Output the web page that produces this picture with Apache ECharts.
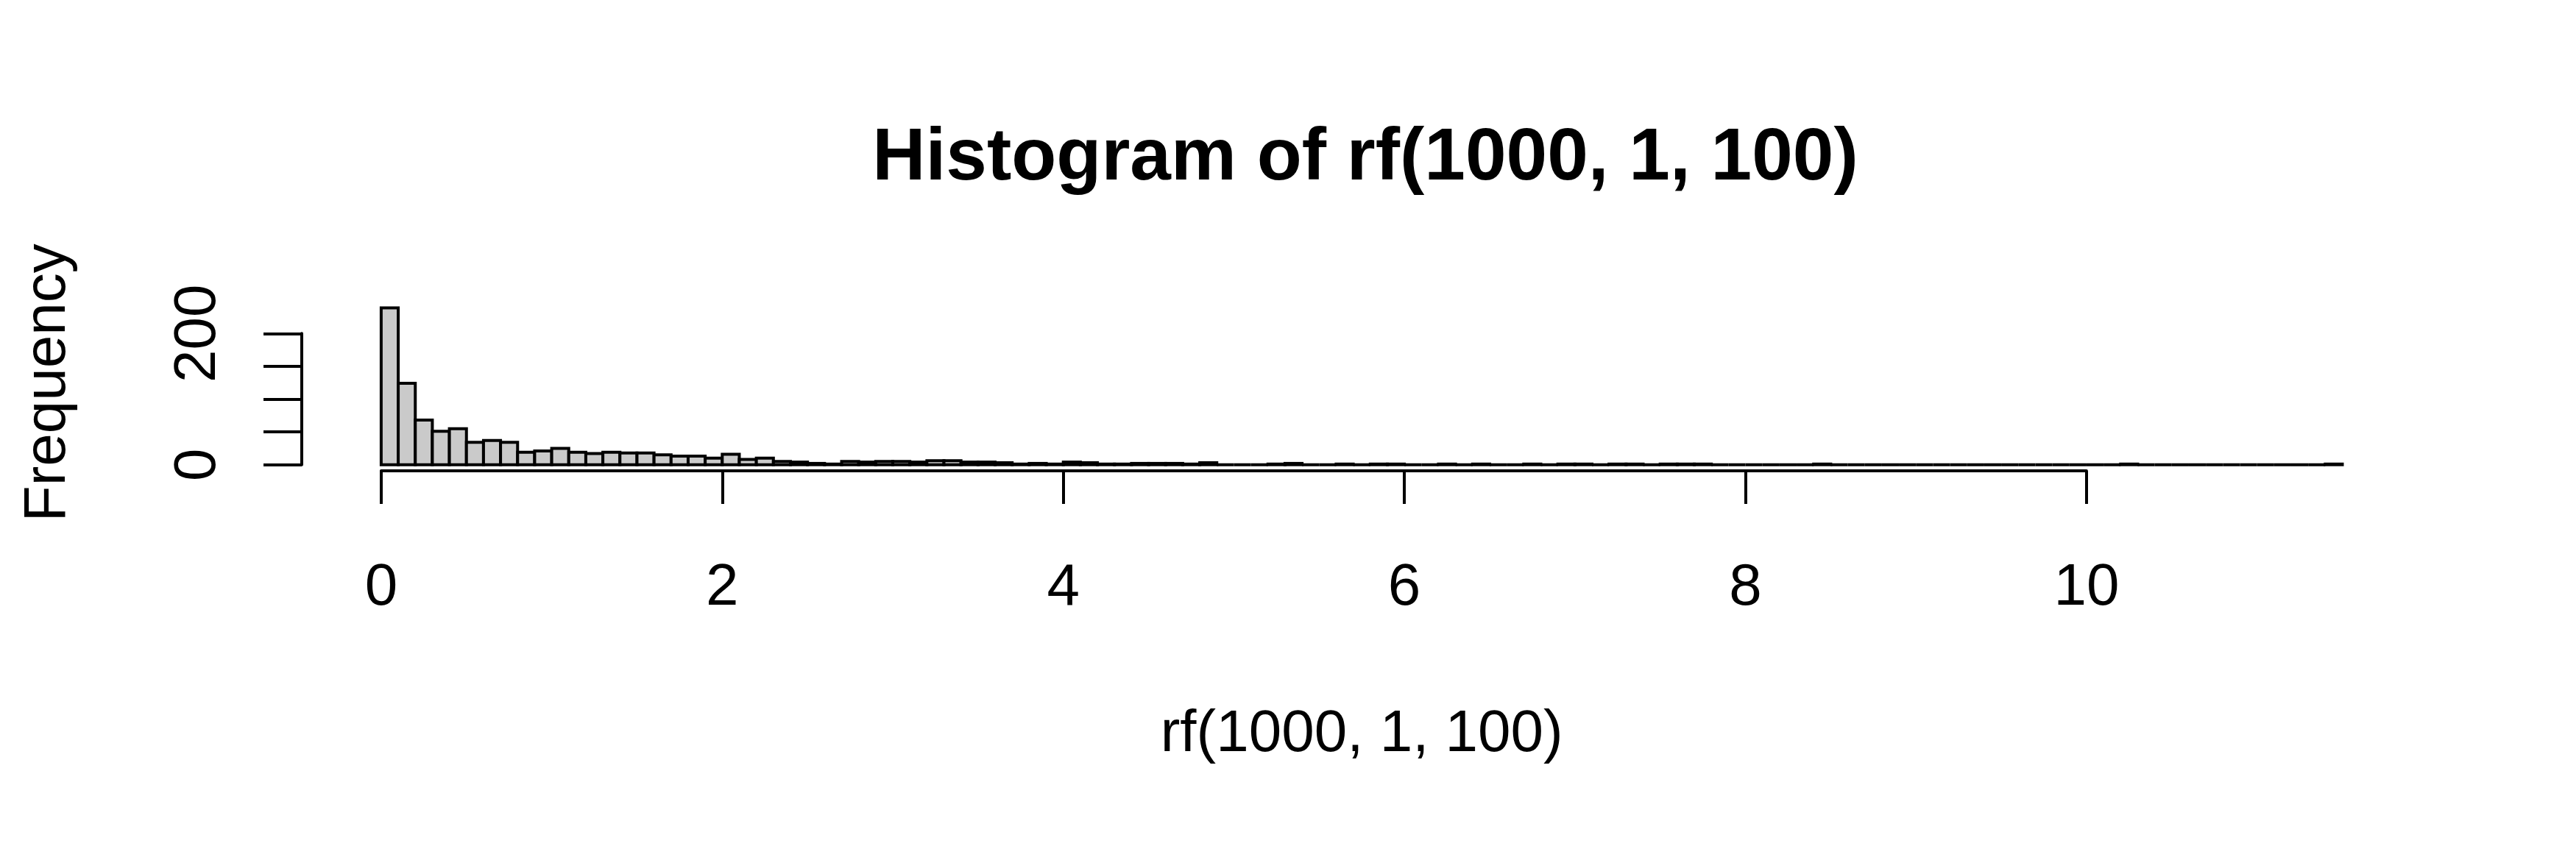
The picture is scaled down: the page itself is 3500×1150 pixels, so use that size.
<!DOCTYPE html>
<html>
<head>
<meta charset="utf-8">
<script src="https://cdn.jsdelivr.net/npm/echarts@6/dist/echarts.min.js"></script>
<style>
html,body{margin:0;padding:0;background:#fff;}
#chart{width:3500px;height:1150px;}
</style>
</head>
<body>
<div id="chart"></div>
<script>
// Histogram counts per bin of width 0.1, starting at 0 (bins 0.0-0.1 ... 11.4-11.5)
const binStart = 0;
const binWidth = 0.1;
const counts = [
  239,124,68,51,55,34,37,34,19,21,
  25,19,17,19,18,18,15,13,13,10,
  16,8,10,5,4,2,1,5,4,5,
  5,4,6,6,4,4,3,1,2,1,
  4,3,1,1,2,2,2,1,3,0,
  0,0,1,2,0,0,1,0,1,1,
  0,0,1,0,1,0,0,1,0,1,
  1,0,1,1,0,1,1,1,0,0,
  0,0,0,0,1,0,0,0,0,0,
  0,0,0,0,0,0,0,0,0,0,
  0,0,1,0,0,0,0,0,0,0,
  0,0,0,0,1
];
const xTicks = [0, 2, 4, 6, 8, 10];
const yTickLabels = ['0', '200'];
const titleText = 'Histogram of rf(1000, 1, 100)';
const xLabel = 'rf(1000, 1, 100)';
const yLabel = 'Frequency';

const FONT = "'Liberation Sans', Helvetica, Arial, sans-serif";
const binData = counts.map((c, i) => [binStart + i * binWidth, binStart + (i + 1) * binWidth, c]);
const xMax = binStart + counts.length * binWidth;

const chart = echarts.init(document.getElementById('chart'), null, {renderer: 'canvas'});
const option = {
  backgroundColor: '#ffffff',
  animation: false,
  title: [{
    text: titleText,
    left: 1850, top: 161, textAlign: 'center',
    textStyle: {fontFamily: FONT, fontSize: 100, fontWeight: 'bold', color: '#000'}
  }],
  grid: [
    {left: 517.9, top: 408.7, width: 2664.6, height: 223},
    {left: 517.9, top: 560, width: 2317, height: 80},
    {left: 410, top: 453.3, width: 100, height: 178.4}
  ],
  xAxis: [
    {gridIndex: 0, type: 'value', min: binStart, max: xMax,
     axisLine: {show: false}, axisTick: {show: false}, axisLabel: {show: false}, splitLine: {show: false},
     name: xLabel, nameLocation: 'middle', nameGap: 327,
     nameTextStyle: {fontFamily: FONT, fontSize: 80, color: '#000'}},
    {gridIndex: 1, type: 'value', min: xTicks[0], max: xTicks[xTicks.length - 1], interval: 2,
     axisLine: {show: true, lineStyle: {color: '#000', width: 4}},
     axisTick: {show: true, length: 45, lineStyle: {color: '#000', width: 4}},
     axisLabel: {show: true, margin: 120, fontFamily: FONT, fontSize: 80, color: '#000'},
     splitLine: {show: false}},
    {gridIndex: 2, type: 'value', show: false}
  ],
  yAxis: [
    {gridIndex: 0, type: 'value', min: 0, max: 250,
     axisLine: {show: false}, axisTick: {show: false}, axisLabel: {show: false}, splitLine: {show: false},
     name: yLabel, nameLocation: 'middle', nameGap: 412, nameRotate: 90,
     nameTextStyle: {fontFamily: FONT, fontSize: 80, color: '#000'}},
    {gridIndex: 1, type: 'value', show: false},
    {gridIndex: 2, type: 'value', min: 0, max: 200, interval: 50,
     axisLine: {show: true, lineStyle: {color: '#000', width: 4}},
     axisTick: {show: true, length: 52, lineStyle: {color: '#000', width: 4}},
     axisLabel: {show: true, rotate: 90, margin: 100, fontFamily: FONT, fontSize: 80, color: '#000',
       formatter: v => (yTickLabels.indexOf(String(v)) >= 0 ? String(v) : '')},
     splitLine: {show: false}}
  ],
  series: [{
    type: 'custom',
    xAxisIndex: 0, yAxisIndex: 0,
    clip: false,
    data: binData,
    renderItem: function (params, api) {
      const p0 = api.coord([api.value(0), 0]);
      const p1 = api.coord([api.value(1), api.value(2)]);
      return {
        type: 'rect',
        shape: {x: p0[0], y: p1[1], width: p1[0] - p0[0], height: p0[1] - p1[1]},
        style: {fill: '#cacaca', stroke: '#000', lineWidth: 4}
      };
    }
  }]
};
chart.setOption(option);
</script>
</body>
</html>
